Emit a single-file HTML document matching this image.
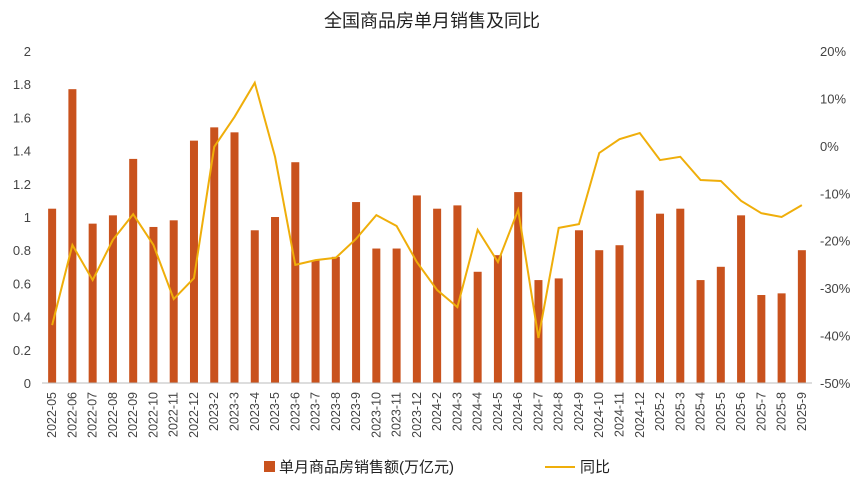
<!DOCTYPE html>
<html><head><meta charset="utf-8"><style>
body{margin:0;background:#fff;}
svg text{font-family:"Liberation Sans","Noto Sans CJK SC",sans-serif;}
</style></head><body>
<svg id="c" width="865" height="487"></svg>
<script>
const categories=["2022-05","2022-06","2022-07","2022-08","2022-09","2022-10","2022-11","2022-12","2023-2","2023-3","2023-4","2023-5","2023-6","2023-7","2023-8","2023-9","2023-10","2023-11","2023-12","2024-2","2024-3","2024-4","2024-5","2024-6","2024-7","2024-8","2024-9","2024-10","2024-11","2024-12","2025-2","2025-3","2025-4","2025-5","2025-6","2025-7","2025-8","2025-9"];
const salesValues=[1.05,1.77,0.96,1.01,1.35,0.94,0.98,1.46,1.54,1.51,0.92,1.0,1.33,0.74,0.76,1.09,0.81,0.81,1.13,1.05,1.07,0.67,0.77,1.15,0.62,0.63,0.92,0.80,0.83,1.16,1.02,1.05,0.62,0.70,1.01,0.53,0.54,0.80];
const yoyValues=[-37.8,-20.9,-28.3,-19.8,-14.4,-20.9,-32.3,-27.9,-0.2,6.1,13.3,-2.3,-25.1,-24.1,-23.6,-19.6,-14.6,-16.9,-24.5,-30.4,-34.0,-17.7,-24.5,-13.5,-40.5,-17.3,-16.5,-1.5,1.4,2.7,-3.0,-2.3,-7.2,-7.4,-11.6,-14.2,-15.0,-12.5];
const leftTicks=[0,0.2,0.4,0.6,0.8,1,1.2,1.4,1.6,1.8,2];
const rightTicks=[-50,-40,-30,-20,-10,0,10,20];
const NS="http://www.w3.org/2000/svg";
const svg=document.getElementById('c');
function mk(t,a,txt){const e=document.createElementNS(NS,t);for(const k in a)e.setAttribute(k,a[k]);if(txt!==undefined)e.textContent=txt;svg.appendChild(e);return e;}
const yTop=51,yBot=383,x0=42,x1=812;
const yL=v=>yBot-(v/2)*(yBot-yTop);
const yR=v=>yBot-((v+50)/70)*(yBot-yTop);
const step=(x1-x0)/categories.length;
const xc=i=>x0+step*(i+0.5);
let t=mk('text',{x:432,y:27,'text-anchor':'middle','font-size':18,fill:'#222'},'全国商品房单月销售及同比');


leftTicks.forEach(v=>{const e=mk('text',{x:31,y:yL(v)+5,'text-anchor':'end','font-size':13,fill:'#444'},String(v));

});
rightTicks.forEach(v=>{const e=mk('text',{x:820,y:yR(v)+5,'text-anchor':'start','font-size':13,fill:'#444'},v+'%');

});
salesValues.forEach((v,i)=>{const e=mk('rect',{x:xc(i)-4,y:yL(v),width:8,height:yBot-yL(v),fill:'#C9521D'});

});
let ax=mk('line',{x1:x0,x2:x1,y1:yBot,y2:yBot,stroke:'#bbb','stroke-width':1});


let pl=mk('polyline',{points:yoyValues.map((v,i)=>xc(i)+','+yR(v)).join(' '),fill:'none',stroke:'#EFAE0A','stroke-width':2});


categories.forEach((c,i)=>{const x=xc(i)+4,y=392;const e=mk('text',{x:x,y:y,transform:`rotate(-90 ${x} ${y})`,'text-anchor':'end','font-size':12.5,fill:'#444'},c);

});
let lr=mk('rect',{x:264,y:461,width:11,height:11,fill:'#C9521D'});


let lt=mk('text',{x:279,y:472,'font-size':15,fill:'#222'},'单月商品房销售额(万亿元)');


let ll=mk('line',{x1:545,x2:575,y1:467,y2:467,stroke:'#EFAE0A','stroke-width':2});


let lt2=mk('text',{x:580,y:472,'font-size':15,fill:'#222'},'同比');


</script>
</body></html>
